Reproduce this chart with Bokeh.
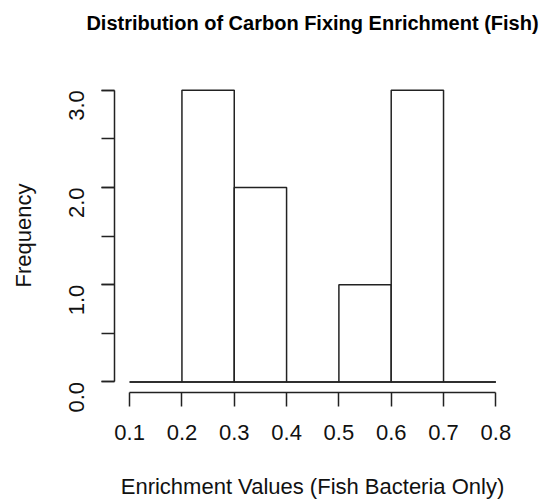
import math
from bokeh.plotting import figure
from bokeh.models import FixedTicker, PrintfTickFormatter, Range1d, Title
from bokeh.embed import file_html
from bokeh.resources import INLINE

# ---- data ----
bin_edges = [0.1, 0.2, 0.3, 0.4, 0.5, 0.6, 0.7, 0.8]
counts = [0, 3, 2, 0, 1, 3, 0]
x_ticks = [0.1, 0.2, 0.3, 0.4, 0.5, 0.6, 0.7, 0.8]
y_ticks = [0, 1, 2, 3]
y_minor_ticks = [0, 0.5, 1, 1.5, 2, 2.5, 3]

title_text = "Distribution of Carbon Fixing Enrichment (Fish)"
x_label = "Enrichment Values (Fish Bacteria Only)"
y_label = "Frequency"

FONT = "Liberation Sans"
LINE = "#222222"

p = figure(width=540, height=501, output_backend="svg", toolbar_location=None,
           x_range=Range1d(0.0711, 0.828), y_range=Range1d(-0.109, 3.121),
           min_border_left=114, min_border_right=30, min_border_top=78,
           min_border_bottom=107, title=title_text)

p.outline_line_color = None
p.xgrid.visible = False
p.ygrid.visible = False
p.background_fill_color = "white"
p.border_fill_color = "white"

p.title.text_font = FONT
p.title.text_font_size = "20px"
p.title.text_font_style = "bold"
p.title.text_color = "black"
p.title.align = "center"
p.title.standoff = 10

# empty spacer between the title and the plotting region
p.add_layout(Title(text=" ", text_font_size="1px", standoff=37), "above")

lefts = bin_edges[:-1]
rights = bin_edges[1:]
p.quad(left=lefts, right=rights, bottom=[0] * len(counts), top=counts,
       fill_color="white", line_color=LINE, line_width=1.5)
p.segment(x0=[bin_edges[0]], y0=[0], x1=[bin_edges[-1]], y1=[0],
          line_color=LINE, line_width=1.5)

# x axis
xa = p.xaxis[0]
xa.ticker = FixedTicker(ticks=x_ticks)
xa.formatter = PrintfTickFormatter(format="%.1f")
xa.bounds = (bin_edges[0], bin_edges[-1])
xa.axis_label = x_label

# y axis
ya = p.yaxis[0]
ya.ticker = FixedTicker(ticks=y_ticks, minor_ticks=y_minor_ticks)
ya.formatter = PrintfTickFormatter(format="%.1f")
ya.bounds = (0, 3)
ya.axis_label = y_label
ya.major_label_orientation = math.pi / 2

for ax, tick in ((xa, 14), (ya, 13)):
    ax.axis_line_color = LINE
    ax.axis_line_width = 1.5
    ax.major_tick_line_color = LINE
    ax.major_tick_line_width = 1.5
    ax.minor_tick_line_color = LINE
    ax.minor_tick_line_width = 1.5
    ax.major_tick_out = tick
    ax.major_tick_in = 0
    ax.minor_tick_out = tick
    ax.minor_tick_in = 0
    ax.major_label_text_font = FONT
    ax.major_label_text_font_size = "22px"
    ax.major_label_text_color = "#111111"
    ax.axis_label_text_font = FONT
    ax.axis_label_text_font_size = "22px"
    ax.axis_label_text_font_style = "normal"
    ax.axis_label_text_color = "#111111"

xa.minor_tick_out = 0
xa.major_label_standoff = 18
xa.axis_label_standoff = 31
ya.major_label_standoff = 25
ya.axis_label_standoff = 23

open("out.html", "w").write(file_html(p, INLINE))
